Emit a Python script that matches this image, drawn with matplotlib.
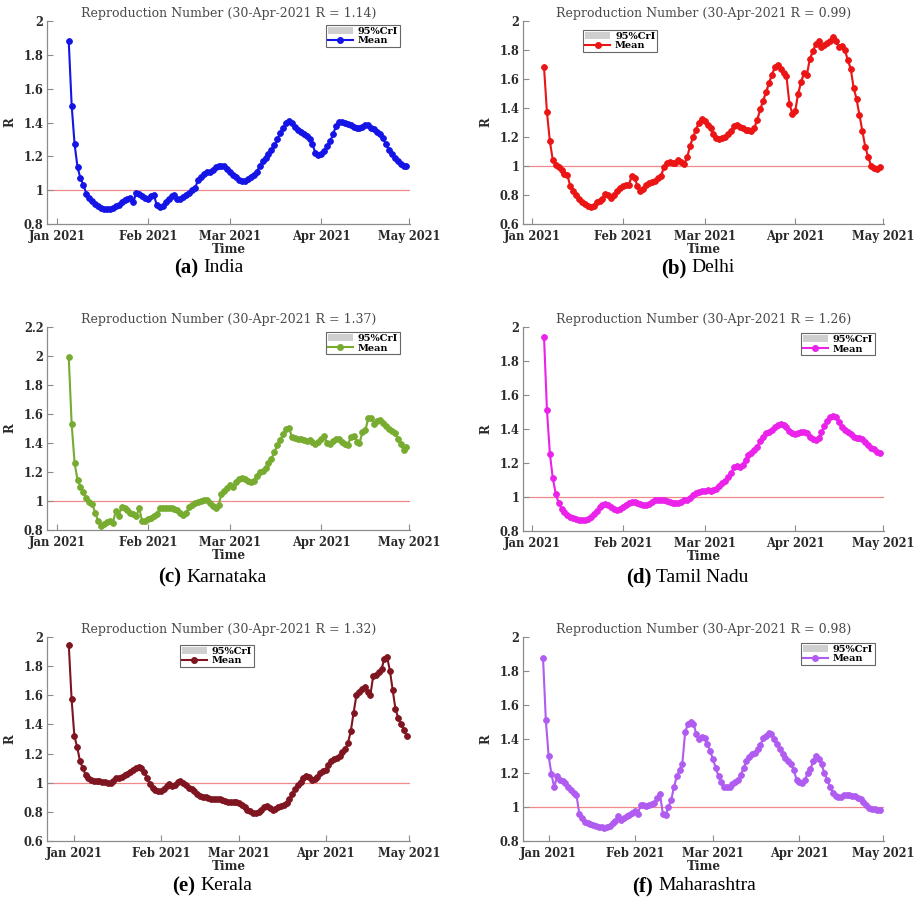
import numpy as np
import pandas as pd
import matplotlib
matplotlib.use("Agg")
import matplotlib.pyplot as plt
import matplotlib.dates as mdates
from matplotlib.lines import Line2D
from matplotlib.patches import Patch
from matplotlib.ticker import FuncFormatter, MultipleLocator

# ---------------- data (daily mean R, ending 30-Apr-2021) ----------------
END_DATE = "2021-04-30"

india = [1.88, 1.50, 1.27, 1.135, 1.07, 1.03, 0.98, 0.955, 0.935, 0.92,
         0.905, 0.895, 0.89, 0.89, 0.89, 0.895, 0.905, 0.915, 0.93, 0.94,
         0.95, 0.955, 0.93, 0.985, 0.98, 0.965, 0.955, 0.95, 0.965, 0.97,
         0.91, 0.90, 0.905, 0.93, 0.95, 0.965, 0.97, 0.945, 0.95, 0.96,
         0.97, 0.985, 1.00, 1.01, 1.06, 1.08, 1.095, 1.105, 1.11, 1.12,
         1.135, 1.145, 1.145, 1.14, 1.125, 1.105, 1.09, 1.075, 1.06, 1.055,
         1.055, 1.065, 1.075, 1.09, 1.11, 1.14, 1.17, 1.19, 1.215, 1.235,
         1.265, 1.30, 1.34, 1.37, 1.395, 1.41, 1.395, 1.375, 1.355, 1.345,
         1.33, 1.32, 1.30, 1.27, 1.22, 1.21, 1.215, 1.23, 1.26, 1.29,
         1.33, 1.38, 1.405, 1.405, 1.40, 1.39, 1.385, 1.375, 1.37, 1.37,
         1.375, 1.385, 1.385, 1.37, 1.36, 1.345, 1.33, 1.31, 1.27, 1.24,
         1.215, 1.19, 1.17, 1.155, 1.145, 1.14]

delhi = [1.68, 1.37, 1.17, 1.04, 1.01, 0.99, 0.97, 0.945, 0.935, 0.86,
         0.83, 0.80, 0.77, 0.75, 0.735, 0.725, 0.72, 0.725, 0.75, 0.76,
         0.77, 0.81, 0.80, 0.78, 0.80, 0.83, 0.85, 0.86, 0.87, 0.87,
         0.93, 0.92, 0.86, 0.83, 0.84, 0.87, 0.88, 0.89, 0.90, 0.915,
         0.93, 0.99, 1.02, 1.025, 1.02, 1.02, 1.04, 1.03, 1.015, 1.06,
         1.14, 1.20, 1.25, 1.30, 1.325, 1.31, 1.285, 1.26, 1.22, 1.195,
         1.185, 1.195, 1.20, 1.22, 1.24, 1.275, 1.28, 1.27, 1.265, 1.25,
         1.245, 1.24, 1.265, 1.32, 1.39, 1.45, 1.51, 1.57, 1.63, 1.68,
         1.70, 1.67, 1.64, 1.62, 1.43, 1.36, 1.38, 1.50, 1.58, 1.64,
         1.63, 1.74, 1.79, 1.84, 1.86, 1.82, 1.835, 1.85, 1.86, 1.89,
         1.86, 1.82, 1.825, 1.80, 1.73, 1.67, 1.54, 1.46, 1.35, 1.24,
         1.13, 1.06, 1.00, 0.985, 0.98, 0.99]

karnataka = [1.99, 1.53, 1.26, 1.145, 1.10, 1.06, 1.02, 0.99, 0.98, 0.92,
             0.86, 0.83, 0.84, 0.855, 0.86, 0.85, 0.93, 0.90, 0.96, 0.95,
             0.935, 0.92, 0.91, 0.90, 0.95, 0.86, 0.865, 0.875, 0.88, 0.90,
             0.91, 0.95, 0.955, 0.95, 0.955, 0.95, 0.945, 0.935, 0.915, 0.905,
             0.92, 0.96, 0.975, 0.985, 0.99, 1.00, 1.01, 1.005, 0.985, 0.965,
             0.955, 0.97, 1.05, 1.07, 1.09, 1.11, 1.10, 1.13, 1.155, 1.16,
             1.15, 1.14, 1.13, 1.14, 1.175, 1.20, 1.21, 1.225, 1.26, 1.29,
             1.34, 1.385, 1.42, 1.46, 1.50, 1.505, 1.44, 1.435, 1.43, 1.425,
             1.42, 1.415, 1.42, 1.41, 1.39, 1.41, 1.43, 1.445, 1.40, 1.39,
             1.415, 1.43, 1.425, 1.41, 1.39, 1.385, 1.44, 1.45, 1.41, 1.40,
             1.475, 1.49, 1.57, 1.575, 1.53, 1.555, 1.56, 1.54, 1.52, 1.50,
             1.485, 1.47, 1.43, 1.395, 1.35, 1.37]

tamil_nadu = [1.94, 1.51, 1.255, 1.11, 1.02, 0.965, 0.93, 0.91, 0.895, 0.885,
              0.875, 0.87, 0.865, 0.865, 0.865, 0.87, 0.88, 0.90, 0.92, 0.94,
              0.955, 0.96, 0.955, 0.94, 0.93, 0.925, 0.93, 0.94, 0.955, 0.965,
              0.97, 0.97, 0.965, 0.96, 0.955, 0.955, 0.96, 0.97, 0.98, 0.985,
              0.985, 0.98, 0.975, 0.97, 0.965, 0.965, 0.965, 0.97, 0.98, 0.985,
              0.995, 1.01, 1.025, 1.03, 1.035, 1.035, 1.04, 1.035, 1.04, 1.05,
              1.065, 1.08, 1.095, 1.12, 1.14, 1.175, 1.18, 1.175, 1.19, 1.22,
              1.245, 1.26, 1.275, 1.295, 1.33, 1.355, 1.375, 1.385, 1.395, 1.41,
              1.425, 1.43, 1.425, 1.41, 1.39, 1.375, 1.37, 1.375, 1.38, 1.385,
              1.375, 1.355, 1.34, 1.335, 1.35, 1.38, 1.42, 1.45, 1.47, 1.475,
              1.47, 1.44, 1.41, 1.395, 1.385, 1.37, 1.355, 1.345, 1.345, 1.34,
              1.325, 1.305, 1.29, 1.28, 1.265, 1.26]

kerala = [1.945, 1.575, 1.32, 1.245, 1.15, 1.10, 1.055, 1.03, 1.02, 1.01,
          1.01, 1.01, 1.005, 1.005, 0.995, 1.00, 1.015, 1.03, 1.035, 1.04,
          1.05, 1.06, 1.075, 1.09, 1.10, 1.11, 1.10, 1.075, 1.03, 0.99,
          0.965, 0.95, 0.94, 0.945, 0.955, 0.975, 0.99, 0.98, 0.985, 1.005,
          1.01, 1.00, 0.985, 0.965, 0.955, 0.945, 0.92, 0.91, 0.905, 0.90,
          0.895, 0.89, 0.89, 0.89, 0.885, 0.88, 0.875, 0.87, 0.865, 0.865,
          0.865, 0.86, 0.845, 0.83, 0.815, 0.805, 0.795, 0.79, 0.80, 0.815,
          0.835, 0.84, 0.825, 0.815, 0.82, 0.83, 0.84, 0.85, 0.86, 0.885,
          0.925, 0.955, 0.985, 1.005, 1.03, 1.045, 1.04, 1.02, 1.025, 1.04,
          1.065, 1.08, 1.09, 1.125, 1.15, 1.165, 1.17, 1.185, 1.21, 1.23,
          1.275, 1.355, 1.48, 1.60, 1.625, 1.645, 1.655, 1.62, 1.60, 1.73,
          1.74, 1.76, 1.78, 1.85, 1.86, 1.77, 1.635, 1.505, 1.445, 1.40,
          1.365, 1.32]

maharashtra = [1.875, 1.51, 1.30, 1.195, 1.115, 1.18, 1.16, 1.155, 1.14, 1.12,
               1.10, 1.085, 1.07, 0.96, 0.935, 0.91, 0.905, 0.90, 0.895, 0.89,
               0.885, 0.88, 0.875, 0.88, 0.89, 0.905, 0.92, 0.945, 0.925, 0.935,
               0.945, 0.955, 0.965, 0.975, 0.96, 1.01, 1.01, 1.005, 1.01, 1.02,
               1.025, 1.05, 1.075, 0.96, 0.95, 1.00, 1.04, 1.12, 1.18, 1.22,
               1.255, 1.44, 1.49, 1.50, 1.49, 1.43, 1.40, 1.41, 1.405, 1.37,
               1.33, 1.28, 1.23, 1.18, 1.15, 1.115, 1.115, 1.115, 1.135, 1.15,
               1.16, 1.19, 1.23, 1.27, 1.295, 1.31, 1.32, 1.34, 1.365, 1.405,
               1.42, 1.435, 1.43, 1.40, 1.37, 1.34, 1.31, 1.29, 1.27, 1.25,
               1.22, 1.16, 1.145, 1.14, 1.16, 1.20, 1.225, 1.27, 1.30, 1.285,
               1.25, 1.20, 1.16, 1.12, 1.085, 1.065, 1.06, 1.06, 1.07, 1.07,
               1.07, 1.065, 1.065, 1.055, 1.045, 1.03, 1.01, 0.995, 0.99, 0.99,
               0.985, 0.98]

letters = ["(a)", "(b)", "(c)", "(d)", "(e)", "(f)"]
regions = ["India", "Delhi", "Karnataka", "Tamil Nadu", "Kerala", "Maharashtra"]
series = [india, delhi, karnataka, tamil_nadu, kerala, maharashtra]
cri_halfwidth = [0.008, 0.02, 0.012, 0.012, 0.008, 0.008]
ylims = [(0.8, 2.0), (0.6, 2.0), (0.8, 2.2), (0.8, 2.0), (0.6, 2.0), (0.8, 2.0)]

# ---------------- styling / layout ----------------
colors = ["#1414e6", "#ec1515", "#77ac30", "#ea22ea", "#7e1520", "#b05cf0"]
W, H = 921, 899
# axes boxes in pixels: (left, top, right, bottom)
boxes = [(47, 21, 410, 224), (523, 21, 884, 224),
         (47, 327, 410, 530), (523, 327, 884, 531),
         (47, 637, 410, 841), (523, 637, 884, 841)]
xlim_days = [(-3.4, 120.2), (-3.2, 120.4), (-3.4, 120.2), (-3.2, 120.4),
             (-9.8, 120.2), (-9.2, 120.4)]
legend_loc = [("upper right", (0.972, 0.980)), ("upper left", (0.166, 0.956)),
              ("upper right", (0.972, 0.975)), ("upper right", (0.975, 0.970)),
              ("upper left", (0.366, 0.961)), ("upper right", (0.975, 0.971))]
caption_split = [200, 688, 183, 653, 197, 655]
caption_y = [268, 268, 577, 577, 886, 886]

SERIF = "DejaVu Serif"
fig = plt.figure(figsize=(W / 100, H / 100), dpi=100)
fig.patch.set_facecolor("white")

jan1 = pd.Timestamp("2021-01-01")

for i in range(6):
    l, t, r, b = boxes[i]
    ax = fig.add_axes([l / W, 1 - b / H, (r - l) / W, (b - t) / H])
    vals = np.array(series[i])
    dates = pd.date_range(end=END_DATE, periods=len(vals), freq="D")
    hw = cri_halfwidth[i]
    ax.fill_between(dates, vals - hw, vals + hw, color="#c8c8c8", lw=0, zorder=2)
    ax.axhline(1.0, color="#f08a8a", lw=0.9, zorder=1)
    ax.plot(dates, vals, color=colors[i], lw=1.5, marker="o", ms=4.2,
            mfc=colors[i], mec=colors[i], mew=0.6, zorder=3)

    x0 = jan1 + pd.Timedelta(days=xlim_days[i][0])
    x1 = jan1 + pd.Timedelta(days=xlim_days[i][1])
    ax.set_xlim(x0, x1)
    ax.set_ylim(*ylims[i])
    ax.xaxis.set_major_locator(mdates.MonthLocator())
    ax.xaxis.set_major_formatter(mdates.DateFormatter("%b %Y"))
    ax.yaxis.set_major_locator(MultipleLocator(0.2))
    ax.yaxis.set_major_formatter(FuncFormatter(lambda v, p: f"{v:g}"))

    for s in ["top", "right"]:
        ax.spines[s].set_visible(False)
    for s in ["left", "bottom"]:
        ax.spines[s].set_color("#8c8c8c")
        ax.spines[s].set_linewidth(0.9)
    ax.tick_params(direction="in", length=4, width=0.8, color="#8c8c8c",
                   labelsize=8.3, labelcolor="#2a2a2a", pad=2.5)
    ax.tick_params(axis="x", pad=4)
    for lab in ax.get_xticklabels() + ax.get_yticklabels():
        lab.set_fontfamily(SERIF)
        lab.set_fontweight("bold")

    ax.set_title(f"Reproduction Number (30-Apr-2021 R = {vals[-1]:.2f})",
                 fontsize=9, family=SERIF, color="#4a4a4a", pad=3)
    ax.set_xlabel("Time", fontsize=8.7, family=SERIF, fontweight="bold",
                  color="#2a2a2a", labelpad=0)
    ax.set_ylabel("R", fontsize=8.5, family=SERIF, fontweight="bold",
                  color="#2a2a2a", labelpad=5)

    handles = [Patch(facecolor="#cfcfcf", edgecolor="none"),
               Line2D([], [], color=colors[i], lw=1.5, marker="o", ms=4)]
    loc, anchor = legend_loc[i]
    leg = ax.legend(handles, ["95%CrI", "Mean"], loc=loc, bbox_to_anchor=anchor,
                    prop={"family": SERIF, "weight": "bold", "size": 7},
                    frameon=True, fancybox=False, borderpad=0.2,
                    labelspacing=0.05, handlelength=2.6, handletextpad=0.5,
                    borderaxespad=0, framealpha=1)
    leg.get_frame().set_edgecolor("#666666")
    leg.get_frame().set_linewidth(0.8)

    sx = caption_split[i]
    cy = 1 - caption_y[i] / H
    fig.text((sx - 2) / W, cy, letters[i], ha="right", va="center",
             fontsize=15, fontweight="bold", family="Liberation Serif")
    fig.text((sx + 3) / W, cy, regions[i], ha="left", va="center",
             fontsize=14, family="Liberation Serif")

fig.savefig("out.png", dpi=100, facecolor="white")
